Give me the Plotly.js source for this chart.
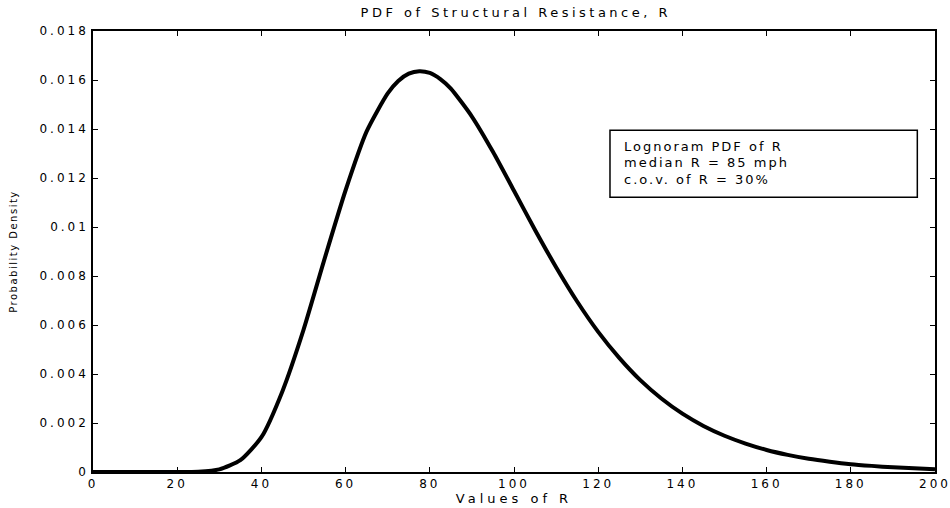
<!DOCTYPE html>
<html>
<head>
<meta charset="utf-8">
<script src="https://cdn.plot.ly/plotly-3.0.1.min.js"></script>
<style>
html, body { margin: 0; padding: 0; background: #fff; }
#chart { width: 950px; height: 508px; }
#chart .gtitle { letter-spacing: 3.5px; }
#chart .xtick text, #chart .ytick text { letter-spacing: 3px; }
#chart .xtitle { letter-spacing: 4px; }
#chart .ytitle { letter-spacing: 1.5px; }
#chart .annotation-text { letter-spacing: 2px; }
</style>
</head>
<body>
<div id="chart"></div>
<script>
// Values of R (mph)
var rValues = [0, 5, 10, 15, 20, 25, 30, 35, 40, 45, 50, 55, 60, 65, 70, 72.5, 75, 77.5, 80, 82.5, 85, 90, 95, 100, 105, 110, 115, 120, 125, 130, 135, 140, 145, 150, 155, 160, 165, 170, 175, 180, 185, 190, 195, 200];
// Probability density
var density = [0, 0, 0, 0, 0.0000006, 0.000013, 0.000107, 0.00048, 0.00142, 0.0033, 0.0058, 0.0087, 0.0115, 0.0139, 0.01545, 0.01596, 0.01626, 0.01636, 0.01629, 0.01604, 0.01565, 0.01451, 0.01307, 0.01148, 0.00988, 0.00836, 0.00696, 0.00572, 0.00466, 0.00375, 0.0030, 0.00238, 0.00188, 0.00148, 0.00116, 0.0009, 0.0007, 0.00054, 0.00042, 0.00032, 0.00025, 0.00019, 0.00015, 0.00011];

var xTicks = [0, 20, 40, 60, 80, 100, 120, 140, 160, 180, 200];
var yTicks = [0, 0.002, 0.004, 0.006, 0.008, 0.01, 0.012, 0.014, 0.016, 0.018];
var yTickText = ['0', '0.002', '0.004', '0.006', '0.008', '0.01', '0.012', '0.014', '0.016', '0.018'];

var chartTitle = 'PDF of Structural Resistance, R';
var xTitle = 'Values of R';
var yTitle = 'Probability Density';
var boxLines = ['Lognoram PDF of R', 'median R = 85 mph', 'c.o.v. of R = 30%'];

var fontFam = 'DejaVu Sans, Arial, sans-serif';

var trace = {
  x: rValues,
  y: density,
  type: 'scatter',
  mode: 'lines',
  line: { color: '#000', width: 4, shape: 'spline', smoothing: 0.6 },
  hoverinfo: 'x+y'
};

var annotations = boxLines.map(function (t, i) {
  return {
    xref: 'paper', yref: 'paper',
    x: 0.628, y: 0.775 - 0.036 - i * 0.038,
    xanchor: 'left', yanchor: 'middle', align: 'left',
    text: t, showarrow: false,
    font: { family: fontFam, size: 13, color: '#000' }
  };
});

var layout = {
  width: 950, height: 508,
  margin: { l: 93, r: 15, t: 31, b: 36 },
  paper_bgcolor: '#fff', plot_bgcolor: '#fff',
  showlegend: false,
  title: {
    text: chartTitle,
    font: { family: fontFam, size: 13, color: '#000' },
    x: 0.543, xanchor: 'center', y: 0.975, yanchor: 'middle'
  },
  xaxis: {
    range: [0, 200],
    tickvals: xTicks,
    ticks: 'inside', ticklen: 5, tickwidth: 1, tickcolor: '#000',
    showline: true, linecolor: '#000', linewidth: 1.5, mirror: 'ticks',
    showgrid: false, zeroline: false,
    tickfont: { family: fontFam, size: 12, color: '#000' },
    title: { text: xTitle, font: { family: fontFam, size: 13, color: '#000' }, standoff: 3 }
  },
  yaxis: {
    range: [0, 0.018],
    tickvals: yTicks, ticktext: yTickText,
    ticks: 'inside', ticklen: 5, tickwidth: 1, tickcolor: '#000',
    showline: true, linecolor: '#000', linewidth: 1.5, mirror: 'ticks',
    showgrid: false, zeroline: false,
    tickfont: { family: fontFam, size: 12, color: '#000' },
    title: { text: yTitle, font: { family: fontFam, size: 10, color: '#000' }, standoff: 35 }
  },
  shapes: [{
    type: 'rect', xref: 'paper', yref: 'paper',
    x0: 0.614, x1: 0.979, y0: 0.623, y1: 0.775,
    line: { color: '#000', width: 1.5 }, fillcolor: '#fff', layer: 'below'
  }],
  annotations: annotations
};

Plotly.newPlot('chart', [trace], layout, { displayModeBar: false });
</script>
</body>
</html>
